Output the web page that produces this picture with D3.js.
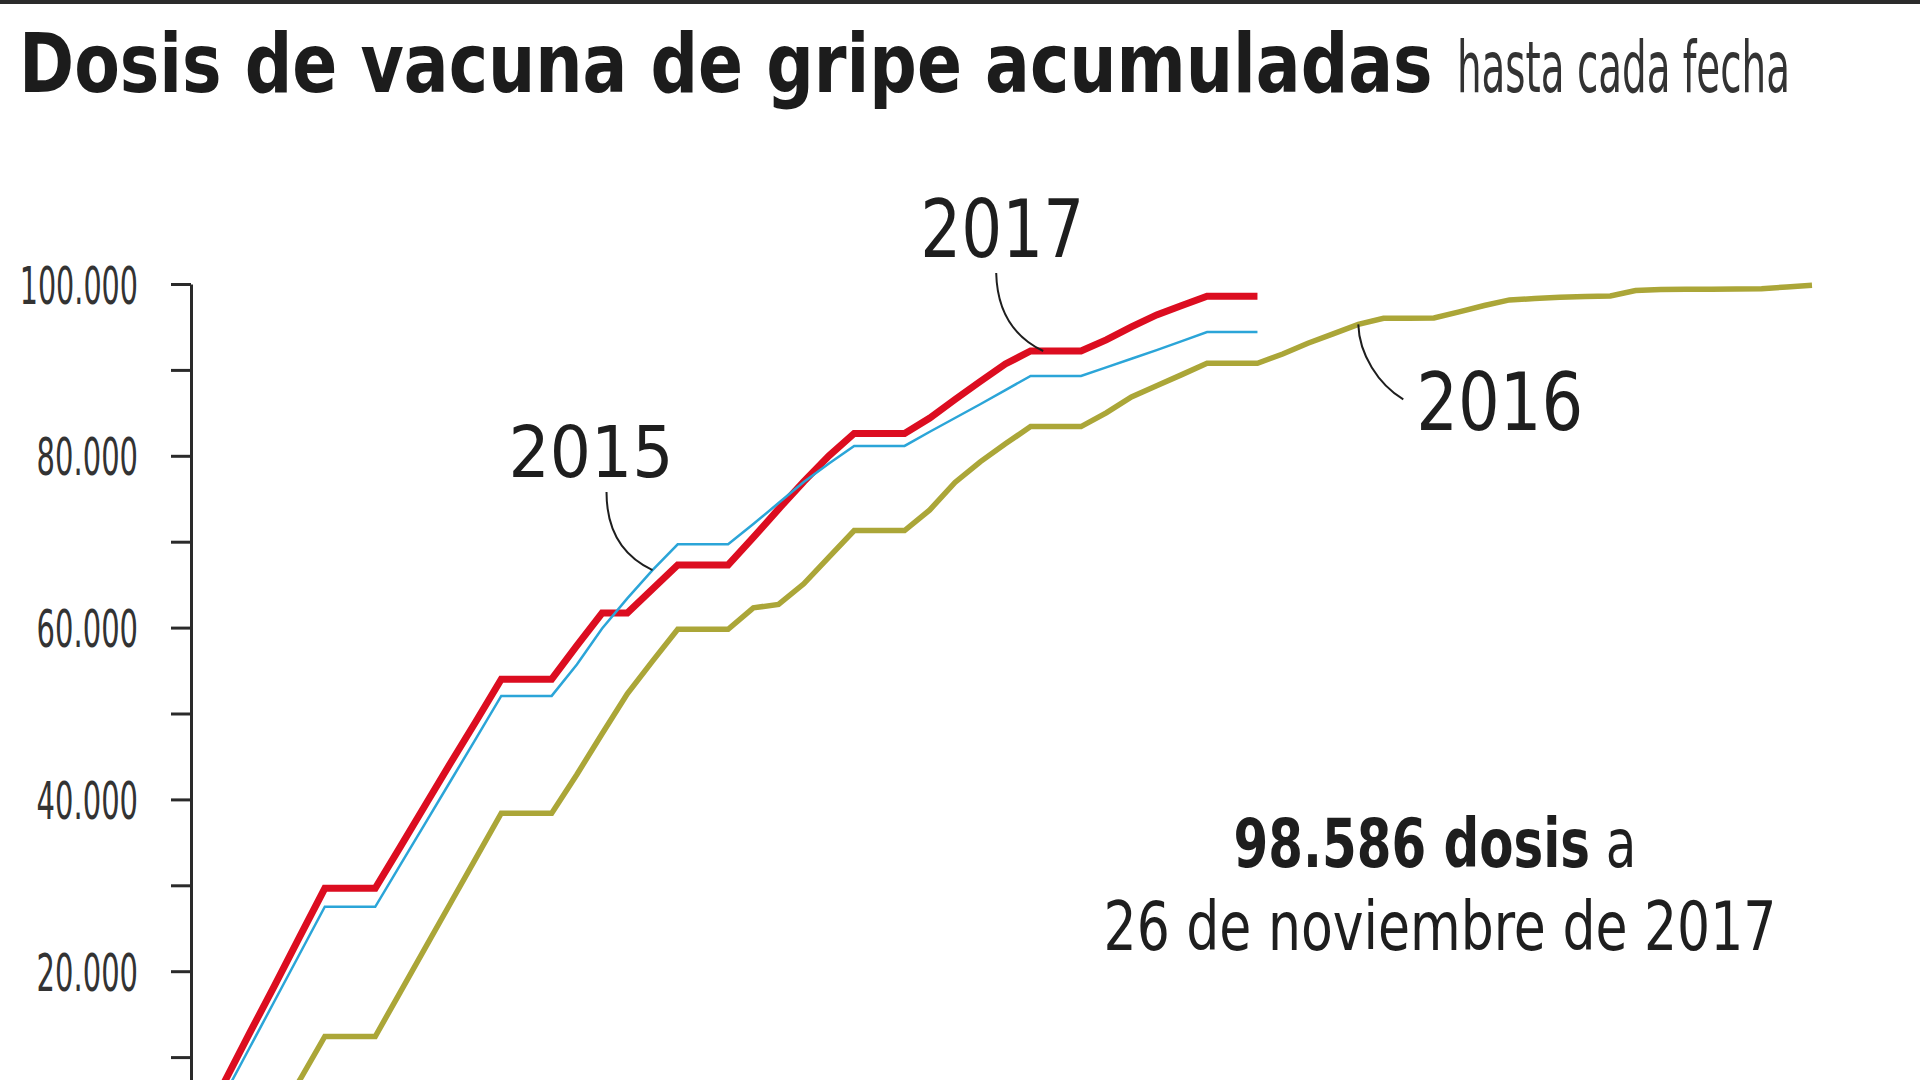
<!DOCTYPE html>
<html>
<head>
<meta charset="utf-8">
<script src="https://cdn.jsdelivr.net/npm/d3@7"></script>
<style>
  html, body { margin: 0; padding: 0; background: #fff; }
  svg { display: block; }
</style>
</head>
<body>
<div id="chart"></div>
<script>
/************************ DATA **********************************************/
// accumulated doses per campaign day (day 0 = first Monday of the campaign)
var dosis2017 = [7000, 12700, 18300, 24000, 29650, 29650, 29650, 34500, 39400, 44300,
	49100, 54000, 54000, 54000, 57900, 61700, 61700, 64500, 67300, 67300,
	67300, 70500, 73800, 77000, 80000, 82600, 82600, 82600, 84400, 86550,
	88650, 90700, 92200, 92200, 92200, 93500, 95000, 96400, 97500, 98586,
	98586, 98586];
var dosis2015 = [5500, 11000, 16500, 22000, 27500, 27500, 27500, 32400, 37300, 42200,
	47100, 52050, 52050, 52050, 55700, 59900, 63400, 66700, 69700, 69700,
	69700, 72050, 74500, 76950, 79100, 81150, 81150, 81150, 82800, 84400,
	86000, 87650, 89300, 89300, 89300, 90300, 91300, 92300, 93350, 94400,
	94400, 94400];
var start2016 = 2; // 2016 series begins on day 2
var dosis2016 = [2500, 7300, 12400, 12400, 12400, 17600, 22800, 28000, 33200, 38400,
	38400, 38400, 42900, 47650, 52300, 56100, 59800, 59800, 59800, 62300,
	62700, 65100, 68200, 71300, 71300, 71300, 73700, 76900, 79300, 81400,
	83400, 83400, 83400, 85000, 86850, 88150, 89450, 90770, 90770, 90770,
	91850, 93100, 94200, 95300, 96000, 96000, 96050, 96750, 97500, 98150,
	98300, 98450, 98550, 98600, 99250, 99350, 99400, 99400, 99420, 99450,
	99650, 99850];

var yTicks = [10000, 20000, 30000, 40000, 50000, 60000, 70000, 80000, 90000, 100000];
var yLabels = ["", "20.000", "", "40.000", "", "60.000", "", "80.000", "", "100.000"];
var seriesYears = ["2015", "2016", "2017"];
var lastDay = 63;

/************************ LAYOUT ********************************************/
var W = 1920, H = 1080;
var COLOR_2017 = "#dc0d20", COLOR_2015 = "#2ba5d8", COLOR_2016 = "#aba638";
var CONDENSED = "'Liberation Sans Narrow', 'DejaVu Sans Condensed', 'DejaVu Sans', sans-serif";

function toPoints(values, start){
	return values.map(function(v, i){ return {day: i + start, value: v}; });
}
// squeeze / stretch a text horizontally to a given width, keeping its anchor
function fit(sel, width){
	sel.each(function(){
		var t = d3.select(this),
			x0 = +t.attr("x") || 0,
			y0 = +t.attr("y") || 0,
			w = this.getComputedTextLength();
		t.attr("x", 0).attr("y", 0)
			.attr("transform", "translate(" + x0 + "," + y0 + ")scale(" + (width / w) + ",1)");
	});
}

var svg = d3.select("#chart").append("svg")
	.attr("width", W)
	.attr("height", H);

// dark rule across the top
svg.append("rect")
	.attr("x", 0).attr("y", 0)
	.attr("width", W).attr("height", 4)
	.attr("fill", "#2b2b2b");

// title
svg.append("text")
	.attr("x", 19).attr("y", 92)
	.attr("font-family", "'DejaVu Sans Condensed', 'DejaVu Sans', sans-serif")
	.attr("font-stretch", "condensed")
	.attr("font-weight", "bold")
	.attr("font-size", 82)
	.attr("fill", "#1c1c1c")
	.text("Dosis de vacuna de gripe acumuladas")
	.call(fit, 1414);

svg.append("text")
	.attr("x", 1457).attr("y", 92)
	.attr("font-family", CONDENSED)
	.attr("font-size", 71)
	.attr("fill", "#333")
	.text("hasta cada fecha")
	.call(fit, 333);

var x = d3.scaleLinear().domain([0, lastDay]).range([224, 1812]);
var y = d3.scaleLinear().domain([0, 100000]).range([1143, 284]);

/************************ AXIS **********************************************/
var yAxis = d3.axisLeft(y)
	.tickValues(yTicks)
	.tickSize(20)
	.tickSizeOuter(0)
	.tickPadding(33)
	.tickFormat(function(d, i){ return yLabels[i]; });

var axisG = svg.append("g")
	.attr("transform", "translate(191,0)")
	.call(yAxis);
axisG.select(".domain").attr("stroke", "#2a2a2a").attr("stroke-width", 3);
axisG.selectAll(".tick line").attr("stroke", "#2a2a2a").attr("stroke-width", 3);
axisG.selectAll(".tick text")
	.attr("font-family", CONDENSED)
	.attr("font-size", 52)
	.attr("fill", "#333")
	.attr("y", 19)
	.attr("dy", null)
	.each(function(d, i){
		if (yLabels[i]) d3.select(this).call(fit, 16.9 * yLabels[i].length);
	});

/************************ LINES *********************************************/
var line = d3.line()
	.x(function(d){ return x(d.day); })
	.y(function(d){ return y(d.value); });

var p2017 = toPoints(dosis2017, 0),
	p2015 = toPoints(dosis2015, 0),
	p2016 = toPoints(dosis2016, start2016);

var lines = svg.append("g").attr("fill", "none").attr("stroke-linejoin", "miter");
lines.append("path").datum(p2016)
	.attr("d", line).attr("stroke", COLOR_2016).attr("stroke-width", 5.5);
lines.append("path").datum(p2017)
	.attr("d", line).attr("stroke", COLOR_2017).attr("stroke-width", 7);
lines.append("path").datum(p2015)
	.attr("d", line).attr("stroke", COLOR_2015).attr("stroke-width", 2.5);

/************************ LABELS ********************************************/
// each label hangs from a point of its own line
function valueAt(points, day){
	return points.filter(function(p){ return p.day === day; })[0].value;
}
var anchors = [
	{name: seriesYears[0], ax: x(17), ay: y(valueAt(p2015, 17)),
		curve: [[-46, -78], [-46, -40], [-30, -14], [0, 0]],
		tx: -144, ty: -93, size: 71, width: 165},
	{name: seriesYears[1], ax: x(45), ay: y(valueAt(p2016, 45)),
		curve: [[0, 0], [1, 30], [20, 60], [45, 75]],
		tx: 58, ty: 106, size: 81, width: 167},
	{name: seriesYears[2], ax: x(32.5), ay: y(valueAt(p2017, 32)),
		curve: [[-47, -78], [-46, -35], [-25, -12], [0, 0]],
		tx: -123, ty: -94, size: 80, width: 164}
];

var labels = svg.append("g");
anchors.forEach(function(a){
	var c = a.curve.map(function(o){ return [a.ax + o[0], a.ay + o[1]]; });
	labels.append("path")
		.attr("d", "M" + c[0] + "C" + c[1] + " " + c[2] + " " + c[3])
		.attr("fill", "none")
		.attr("stroke", "#1e1e1e")
		.attr("stroke-width", 2);
	labels.append("text")
		.attr("x", a.ax + a.tx)
		.attr("y", a.ay + a.ty)
		.attr("font-family", "'DejaVu Sans', sans-serif")
		.attr("font-size", a.size)
		.attr("fill", "#1e1e1e")
		.text(a.name)
		.call(fit, a.width);
});

// current total
var fmt = d3.formatLocale({decimal: ",", thousands: ".", grouping: [3], currency: ["", "€"]}).format(",");
var note = svg.append("g")
	.attr("font-family", CONDENSED)
	.attr("fill", "#1e1e1e")
	.attr("font-size", 67)
	.attr("text-anchor", "middle");
var n1 = note.append("text").attr("x", 1435).attr("y", 867);
n1.append("tspan").attr("font-weight", "bold").text(fmt(dosis2017[dosis2017.length - 1]) + " dosis");
n1.append("tspan").text(" a");
n1.call(fit, 403);
note.append("text").attr("x", 1440).attr("y", 950)
	.text("26 de noviembre de 2017")
	.call(fit, 673);
</script>
</body>
</html>
